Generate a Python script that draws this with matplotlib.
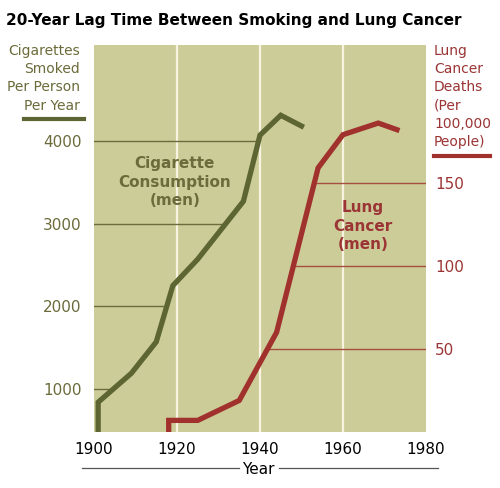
import matplotlib.pyplot as plt
import numpy as np
from matplotlib.lines import Line2D

# data
cig_years = [1901, 1901, 1909, 1915, 1919, 1925, 1936, 1940, 1945, 1950]
cig_values = [0, 840, 1190, 1570, 2250, 2570, 3270, 4070, 4310, 4180]

lung_years = [1918, 1918, 1925, 1935, 1944, 1954, 1960, 1968.5, 1973]
lung_values = [0, 7, 7, 19, 60, 159, 179, 186, 182]

x_ticks = [1900, 1920, 1940, 1960, 1980]
left_ticks = [1000, 2000, 3000, 4000]
right_ticks = [50, 100, 150]

# colours
bg_color = '#cccc99'
green = '#5d6632'
green_text = '#6b6b3b'
red = '#a0312c'
red_text = '#9b3535'

fig = plt.figure(figsize=(5, 4.88), dpi=100)
ax = fig.add_axes([94/500, 1-432/488, 332/500, 387/488])
ax2 = ax.twinx()

ax.set_facecolor(bg_color)
ax.set_xlim(1900, 1980)
ax.set_ylim(480, 5160)
ax2.set_ylim(0, 233)

# vertical white grid
for yr in x_ticks[1:-1]:
    ax.axvline(yr, color='#f7f3e0', linewidth=1.6, zorder=1)

# partial horizontal lines, from axis to the curve
for t in left_ticks:
    x_end = np.interp(t, cig_values[1:8], cig_years[1:8])
    ax.plot([1900, x_end], [t, t], color=green_text, linewidth=1, zorder=2)
for t in right_ticks:
    x_start = np.interp(t, lung_values[2:7], lung_years[2:7])
    ax2.plot([x_start, 1980], [t, t], color='#a5503f', linewidth=1, zorder=2)

ax.plot(cig_years, cig_values, color=green, linewidth=3.8, solid_joinstyle='miter', zorder=3)
ax2.plot(lung_years, lung_values, color=red, linewidth=3.8, solid_joinstyle='miter', zorder=3)

ax.text(1919.5, 3500, 'Cigarette\nConsumption\n(men)', color=green_text, fontsize=11,
        fontweight='bold', ha='center', va='center', linespacing=1.3, zorder=4)
ax2.text(1964.8, 124, 'Lung\nCancer\n(men)', color=red_text, fontsize=11,
         fontweight='bold', ha='center', va='center', linespacing=1.3, zorder=4)

for a in (ax, ax2):
    for s in a.spines.values():
        s.set_visible(False)

ax.set_xticks(x_ticks)
ax.set_yticks(left_ticks)
ax2.set_yticks(right_ticks)
ax.tick_params(axis='x', length=0, pad=7, labelsize=11, labelcolor='black')
ax.tick_params(axis='y', length=0, pad=9, labelsize=11, labelcolor=green_text)
ax2.tick_params(axis='y', length=0, pad=6.5, labelsize=11, labelcolor=red_text)

# axis titles
fig.text(6/500, 1-20/488, '20-Year Lag Time Between Smoking and Lung Cancer',
         fontsize=11, fontweight='bold', ha='left', va='center')
fig.text(80/500, 1-44/488, 'Cigarettes\nSmoked\nPer Person\nPer Year', color=green_text,
         fontsize=10, ha='right', va='top', linespacing=1.38)
fig.add_artist(Line2D([24/500, 84/500], [1-119/488, 1-119/488], color=green, linewidth=3))
fig.text(434/500, 1-44/488, 'Lung\nCancer\nDeaths\n(Per\n100,000\nPeople)', color=red_text,
         fontsize=10, ha='left', va='top', linespacing=1.38)
fig.add_artist(Line2D([434/500, 490/500], [1-156/488, 1-156/488], color=red, linewidth=3))

fig.text(258/500, 1-469/488, 'Year', fontsize=11, ha='center', va='center')
fig.add_artist(Line2D([82/500, 239/500], [1-468/488, 1-468/488], color='#555555', linewidth=0.9))
fig.add_artist(Line2D([279/500, 438/500], [1-468/488, 1-468/488], color='#555555', linewidth=0.9))

fig.savefig('out.png', dpi=100)
